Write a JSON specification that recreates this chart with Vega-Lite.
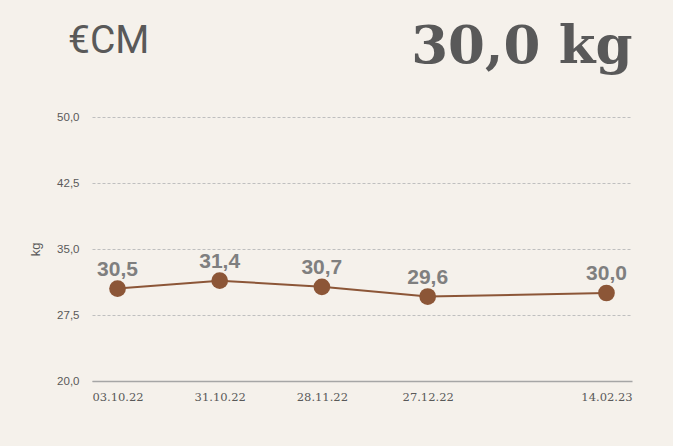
{
  "$schema": "https://vega.github.io/schema/vega-lite/v6.json",
  "width": 540,
  "height": 264,
  "autosize": {"type": "none"},
  "padding": {"left": 92, "top": 117, "right": 41, "bottom": 65},
  "background": "#F5F1EB",
  "title": {
    "text": "€CM",
    "anchor": "start",
    "frame": "group",
    "dx": -24,
    "dy": 45,
    "font": "Roboto",
    "fontSize": 39,
    "fontWeight": "normal",
    "color": "#595959"
  },
  "config": {
    "view": {"stroke": null},
    "axis": {"labelColor": "#595959", "titleColor": "#595959"}
  },
  "data": {
    "values": [
      {"date": "2022-10-03", "kg": 30.5, "label": "30,5"},
      {"date": "2022-10-31", "kg": 31.4, "label": "31,4"},
      {"date": "2022-11-28", "kg": 30.7, "label": "30,7"},
      {"date": "2022-12-27", "kg": 29.6, "label": "29,6"},
      {"date": "2023-02-14", "kg": 30.0, "label": "30,0"}
    ]
  },
  "encoding": {
    "y": {
      "field": "kg",
      "type": "quantitative",
      "scale": {"domain": [20, 50], "nice": false, "zero": false},
      "axis": {
        "title": "kg",
        "titleFont": "Liberation Sans",
        "titleFontSize": 13,
        "titleFontWeight": "normal",
        "titlePadding": 14,
        "values": [20, 27.5, 35, 42.5, 50],
        "labelExpr": "replace(format(datum.value, '.1f'), '.', ',')",
        "labelFont": "Liberation Sans",
        "labelFontSize": 11.5,
        "labelPadding": 13,
        "domain": false,
        "ticks": false,
        "grid": true,
        "gridColor": "#BFBFBF",
        "gridDash": [3, 2],
        "gridWidth": 1
      }
    }
  },
  "layer": [
    {
      "mark": {"type": "line", "color": "#8C5637", "strokeWidth": 2},
      "encoding": {
        "x": {
          "field": "date",
          "type": "temporal",
          "scale": {
            "type": "utc",
            "domain": [
              {"year": 2022, "month": "sep", "date": 26, "utc": true},
              {"year": 2023, "month": "feb", "date": 21, "utc": true}
            ]
          },
          "axis": {
            "orient": "bottom",
            "title": null,
            "values": [
              {"year": 2022, "month": "oct", "date": 3, "utc": true},
              {"year": 2022, "month": "oct", "date": 31, "utc": true},
              {"year": 2022, "month": "nov", "date": 28, "utc": true},
              {"year": 2022, "month": "dec", "date": 27, "utc": true},
              {"year": 2023, "month": "feb", "date": 14, "utc": true}
            ],
            "format": "%d.%m.%y",
            "labelFont": "DejaVu Serif",
            "labelFontSize": 11.5,
            "labelPadding": 10,
            "domain": true,
            "domainColor": "#A6A6A6",
            "domainWidth": 1.5,
            "ticks": false,
            "grid": false
          }
        }
      }
    },
    {
      "mark": {"type": "point", "filled": true, "opacity": 1, "color": "#8C5637", "size": 280},
      "encoding": {
        "x": {"field": "date", "type": "temporal", "axis": null}
      }
    },
    {
      "mark": {
        "type": "text",
        "baseline": "alphabetic",
        "dy": -13,
        "font": "Liberation Sans",
        "fontSize": 21,
        "fontWeight": "bold",
        "color": "#7F7F7F"
      },
      "encoding": {
        "x": {
          "field": "date",
          "type": "temporal",
          "axis": {
            "orient": "top",
            "title": "30,0 kg",
            "titleAnchor": "end",
            "titleFont": "DejaVu Serif",
            "titleFontWeight": "bold",
            "titleFontSize": 53,
            "titleColor": "#595959",
            "titleBaseline": "alphabetic",
            "titlePadding": 55,
            "labels": false,
            "ticks": false,
            "domain": false,
            "grid": false
          }
        },
        "text": {"field": "label"}
      }
    }
  ],
  "resolve": {"axis": {"x": "independent"}}
}
